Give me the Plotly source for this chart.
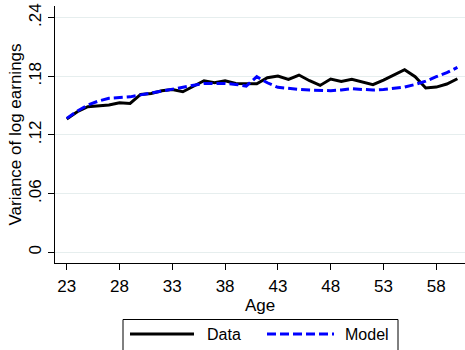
import plotly.graph_objects as go

ages = list(range(23, 61))
data_var = [0.1363, 0.1438, 0.1490, 0.1497, 0.1506, 0.1530, 0.1523, 0.1615, 0.1625, 0.1653,
            0.1666, 0.1642, 0.1700, 0.1755, 0.1734, 0.1755, 0.1727, 0.1727, 0.1724, 0.1786,
            0.1803, 0.1769, 0.1813, 0.1755, 0.1707, 0.1772, 0.1748, 0.1769, 0.1741, 0.1714,
            0.1762, 0.1813, 0.1867, 0.1796, 0.1680, 0.1690, 0.1721, 0.1775]
model_var = [0.1370, 0.1445, 0.1506, 0.1547, 0.1575, 0.1585, 0.1590, 0.1610, 0.1630, 0.1653,
             0.1666, 0.1687, 0.1707, 0.1727, 0.1727, 0.1727, 0.1717, 0.1700, 0.1796, 0.1734,
             0.1687, 0.1673, 0.1666, 0.1660, 0.1653, 0.1653, 0.1660, 0.1673, 0.1666, 0.1660,
             0.1666, 0.1680, 0.1690, 0.1717, 0.1750, 0.1796, 0.1837, 0.1891]
x_ticks = [23, 28, 33, 38, 43, 48, 53, 58]
y_ticks = [0, 0.06, 0.12, 0.18, 0.24]
y_tick_labels = ["0", ".06", ".12", ".18", ".24"]
series_names = ["Data", "Model"]
series_colors = ["black", "#0000ff"]

W, H = 465, 350
ML, MR, MT, MB = 55, 0, 6, 87
PW, PH = W - ML - MR, H - MT - MB


def px_x(p):
    return (p - ML) / PW


def px_y(p):
    return (H - MB - p) / PH


fig = go.Figure()
fig.add_trace(go.Scatter(x=ages, y=data_var, mode="lines", name=series_names[0],
                         line=dict(color=series_colors[0], width=3), showlegend=False))
fig.add_trace(go.Scatter(x=ages, y=model_var, mode="lines", name=series_names[1],
                         line=dict(color=series_colors[1], width=3, dash="9px,4px"),
                         showlegend=False))

# manual legend (Stata style)
fig.add_shape(type="rect", xref="paper", yref="paper",
              x0=px_x(123), x1=px_x(398), y0=px_y(362), y1=px_y(319.5),
              line=dict(color="black", width=1), fillcolor="white", layer="above")
fig.add_shape(type="line", xref="paper", yref="paper",
              x0=px_x(130), x1=px_x(194), y0=px_y(334), y1=px_y(334),
              line=dict(color=series_colors[0], width=3), layer="above")
fig.add_shape(type="line", xref="paper", yref="paper",
              x0=px_x(267), x1=px_x(334), y0=px_y(334), y1=px_y(334),
              line=dict(color=series_colors[1], width=3, dash="9px,4px"), layer="above")
fig.add_annotation(xref="paper", yref="paper", x=px_x(205), y=px_y(334),
                   xanchor="left", yanchor="middle", text=series_names[0],
                   showarrow=False, font=dict(size=16, color="black"))
fig.add_annotation(xref="paper", yref="paper", x=px_x(343), y=px_y(334),
                   xanchor="left", yanchor="middle", text=series_names[1],
                   showarrow=False, font=dict(size=16, color="black"))

font_family = "Liberation Sans, Arial, sans-serif"
fig.update_layout(
    width=W, height=H,
    margin=dict(l=ML, r=MR, t=MT, b=MB),
    paper_bgcolor="white", plot_bgcolor="white",
    font=dict(family=font_family, size=17, color="black"),
    showlegend=False,
    xaxis=dict(range=[21.89, 60.72], tickvals=x_ticks, showgrid=False, zeroline=False,
               showline=True, linecolor="black", linewidth=1,
               ticks="outside", ticklen=6, tickcolor="black", ticklabelstandoff=2,
               title=dict(text="Age", standoff=0, font=dict(size=17)),
               tickfont=dict(size=17)),
    yaxis=dict(range=[-0.0109, 0.2519], tickvals=y_ticks, ticktext=y_tick_labels,
               tickangle=-90, showgrid=True, gridcolor="#e6eeee", gridwidth=1,
               zeroline=False, showline=True, linecolor="black", linewidth=1,
               ticks="outside", ticklen=6, tickcolor="black",
               title=dict(text="Variance of log earnings", standoff=0, font=dict(size=17)),
               tickfont=dict(size=17)),
)

fig.write_html("out.html")
